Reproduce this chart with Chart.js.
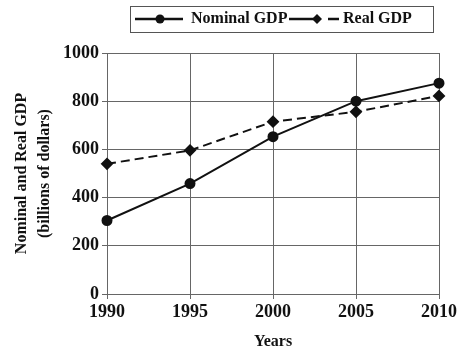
<!DOCTYPE html>
<html>
<head>
<meta charset="utf-8">
<script src="https://cdn.jsdelivr.net/npm/chart.js@4/dist/chart.umd.min.js"></script>
<style>
  body { margin: 0; background: #fff; }
  #wrap { position: relative; width: 469px; height: 351px; }
  #legend { position: absolute; left: 130px; top: 6px; width: 302px; height: 25px;
            border: 1px solid #555; }
  #legend svg { position: absolute; left: 0; top: 0; }
  .lbl { position: absolute; top: 2px; font: bold 16px "Liberation Serif", "Times New Roman", serif;
         color: #111; white-space: nowrap; }
</style>
</head>
<body>
<div id="wrap">
  <canvas id="gdpChart" width="469" height="351"></canvas>
  <div id="legend">
    <svg width="302" height="25">
      <line x1="4" y1="12" x2="52" y2="12" stroke="#111" stroke-width="2.5"/>
      <circle cx="29" cy="12" r="4.5" fill="#111"/>
      <line x1="158" y1="12" x2="186" y2="12" stroke="#111" stroke-width="2.5"/>
      <polygon points="186,7 191,12 186,17 181,12" fill="#111"/>
      <line x1="197" y1="12" x2="208" y2="12" stroke="#111" stroke-width="2.5"/>
    </svg>
    <span class="lbl" style="left:60px">Nominal GDP</span>
    <span class="lbl" style="left:212px">Real GDP</span>
  </div>
</div>
<script>
const years = ['1990', '1995', '2000', '2005', '2010'];
const nominalGdp = [305, 458, 653, 800, 875];
const realGdp = [540, 596, 715, 756, 822];
const seriesNames = ['Nominal GDP', 'Real GDP'];

const serif = '"Liberation Serif", "Times New Roman", serif';
const gridColor = '#666';

const ctx = document.getElementById('gdpChart').getContext('2d');

new Chart(ctx, {
  type: 'line',
  data: {
    labels: years,
    datasets: [{
      label: seriesNames[0],
      data: nominalGdp,
      borderColor: '#111',
      backgroundColor: '#111',
      borderWidth: 2,
      pointStyle: 'circle',
      pointRadius: 4.5,
      tension: 0,
      clip: false
    }, {
      label: seriesNames[1],
      data: realGdp,
      borderColor: '#111',
      backgroundColor: '#111',
      borderWidth: 2,
      borderDash: [9, 5],
      pointStyle: 'rectRot',
      pointRadius: 5,
      tension: 0,
      clip: false
    }]
  },
  options: {
    responsive: false,
    animation: false,
    layout: { padding: { top: 53, right: 30, left: 10, bottom: 0 } },
    plugins: {
      legend: { display: false },
      tooltip: { enabled: false }
    },
    scales: {
      x: {
        offset: false,
        grid: { color: gridColor, lineWidth: 1, tickLength: 5 },
        border: { color: gridColor },
        ticks: { color: '#111', padding: 3, maxRotation: 0, font: { family: serif, size: 18, weight: 'bold' } },
        title: { display: true, text: 'Years', color: '#111', padding: { top: 0, bottom: 0 },
                 font: { family: serif, size: 16, weight: 'bold' } },
        afterFit: (scale) => { scale.height = 57; }
      },
      y: {
        min: 0,
        max: 1000,
        grid: { color: gridColor, lineWidth: 1, tickLength: 5 },
        border: { color: gridColor },
        ticks: { stepSize: 200, color: '#111', padding: 3, callback: (v) => String(v),
                 font: { family: serif, size: 18, weight: 'bold' } },
        title: { display: true, text: ['Nominal and Real GDP', '(billions of dollars)'], color: '#111',
                 padding: { top: 0, bottom: 4 }, font: { family: serif, size: 16, weight: 'bold', lineHeight: 1.45 } },
        afterFit: (scale) => { scale.width = 97; }
      }
    }
  }
});
</script>
</body>
</html>
